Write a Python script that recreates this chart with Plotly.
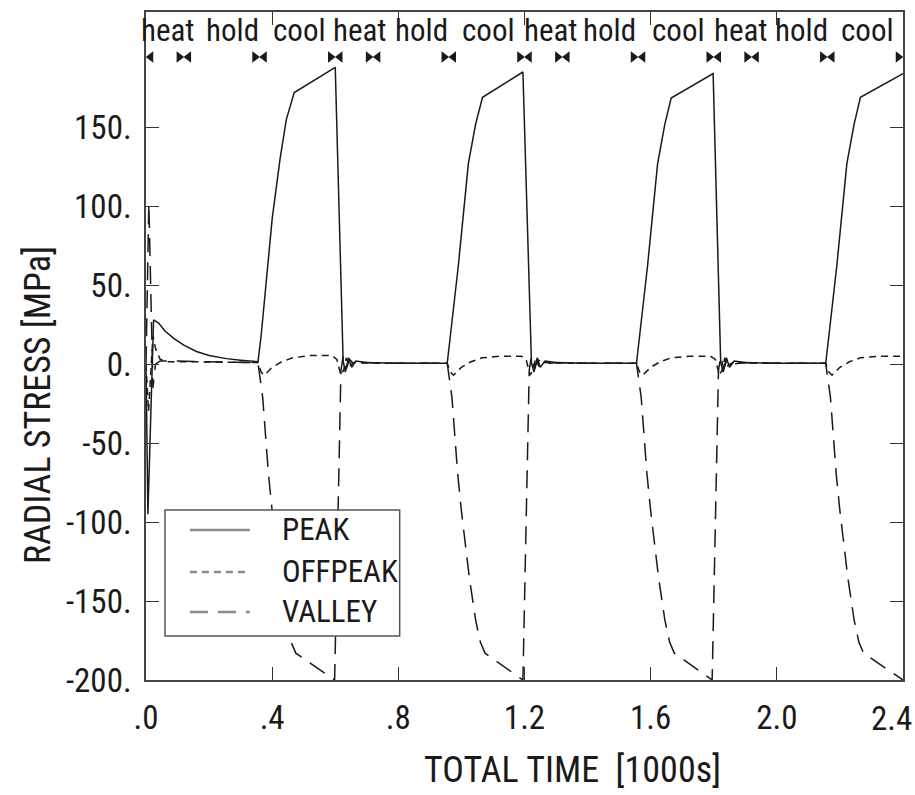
import plotly.graph_objects as go

# ---------------- data (time in 1000 s, stress in MPa) ----------------
peak_t = [0.000, 0.006, 0.024, 0.040, 0.060, 0.090, 0.120, 0.160, 0.200, 0.255, 0.300, 0.355,
          0.365, 0.380, 0.400, 0.425, 0.445, 0.470, 0.600,
          0.625, 0.632, 0.642, 0.652, 0.665, 0.700, 0.800, 0.955,
          0.965, 0.990, 1.022, 1.045, 1.067, 1.195,
          1.222, 1.230, 1.240, 1.250, 1.265, 1.300, 1.400, 1.555,
          1.565, 1.590, 1.622, 1.645, 1.665, 1.798,
          1.822, 1.830, 1.840, 1.850, 1.865, 1.900, 2.000, 2.155,
          2.165, 2.190, 2.222, 2.245, 2.265, 2.400]
peak_v = [0, -95, 28, 26, 21, 16, 12, 8, 5.5, 3.5, 2.5, 1.5,
          18, 48, 92, 130, 155, 172, 188,
          2, -5, 4, -2, 2, 1, 0.5, 0.5,
          18, 62, 127, 152, 169, 185,
          1, -5, 4, -2, 2, 1, 0.5, 0.5,
          18, 62, 127, 152, 168.5, 184,
          1, -5, 4, -2, 2, 1, 0.5, 0.5,
          18, 62, 127, 152, 169, 184]

offpeak_t = [0.000, 0.008, 0.022, 0.030, 0.045, 0.070, 0.150, 0.355,
             0.365, 0.375, 0.400, 0.430, 0.465, 0.520, 0.590,
             0.605, 0.618, 0.628, 0.635, 0.645, 0.660, 0.750, 0.955,
             0.965, 0.975, 1.000, 1.030, 1.065, 1.120, 1.190,
             1.205, 1.218, 1.228, 1.235, 1.245, 1.260, 1.350, 1.555,
             1.565, 1.575, 1.600, 1.630, 1.665, 1.720, 1.790,
             1.805, 1.818, 1.828, 1.835, 1.845, 1.860, 1.950, 2.155,
             2.165, 2.175, 2.200, 2.230, 2.265, 2.320, 2.400]
offpeak_v = [0, -30, 18, 10, 3, 1.5, 1.5, 1,
             -5, -7, -2, 1.5, 4, 5.5, 5.5,
             3, -7, -3, 4, -1, 1, 0.5, 0.5,
             -5, -7, -2, 1.5, 4, 5, 5,
             3, -7, -3, 4, -1, 1, 0.5, 0.5,
             -5, -7, -2, 1.5, 4, 5, 5,
             3, -7, -3, 4, -1, 1, 0.5, 0.5,
             -5, -7, -2, 1.5, 4, 5, 5]

valley_t = [0.000, 0.009, 0.022, 0.030, 0.045, 0.100, 0.200, 0.355,
            0.370, 0.388, 0.400, 0.425, 0.445, 0.460, 0.475, 0.598,
            0.618, 0.625, 0.635, 0.645, 0.660, 0.700, 0.800, 0.955,
            0.970, 0.988, 1.000, 1.025, 1.045, 1.060, 1.075, 1.195,
            1.215, 1.222, 1.232, 1.242, 1.260, 1.300, 1.400, 1.555,
            1.570, 1.588, 1.600, 1.625, 1.645, 1.660, 1.675, 1.795,
            1.815, 1.822, 1.832, 1.842, 1.860, 1.900, 2.000, 2.155,
            2.170, 2.188, 2.200, 2.225, 2.245, 2.260, 2.275, 2.400]
valley_v = [0, 102, -15, 0, 2, 2, 1.5, 1,
            -21, -69, -93, -135, -162, -176, -183, -200,
            -4, 5, -3, 3, 0, 1, 0.5, 0.5,
            -21, -69, -93, -135, -162, -176, -183, -200,
            -4, 5, -3, 3, 0, 1, 0.5, 0.5,
            -21, -69, -93, -135, -162, -176, -183, -200,
            -4, 5, -3, 3, 0, 1, 0.5, 0.5,
            -21, -69, -93, -135, -162, -176, -183, -200]

series_names = ["PEAK", "OFFPEAK", "VALLEY"]

phase_labels = ["heat", "hold", "cool"] * 4
phase_label_t = [0.070, 0.273, 0.486, 0.679, 0.873, 1.086,
                 1.283, 1.470, 1.689, 1.886, 2.079, 2.286]
phase_bounds = [0.00, 0.12, 0.36, 0.60, 0.72, 0.96, 1.20, 1.32, 1.56, 1.80, 1.92, 2.16, 2.40]

x_tickvals = [0.0, 0.4, 0.8, 1.2, 1.6, 2.0, 2.4]
x_ticktext = [".0", ".4", ".8", "1.2", "1.6", "2.0", "2.4"]
y_tickvals = [-200, -150, -100, -50, 0, 50, 100, 150]
y_ticktext = ["-200.", "-150.", "-100.", "-50.", "0.", "50.", "100.", "150."]

# ---------------- styling ----------------
FONT = "Liberation Sans Narrow, Roboto Condensed, DejaVu Sans Condensed, Arial Narrow, sans-serif"
INK = "#1a1a1a"
Y_LABEL = 211.5     # data-y of the phase labels
Y_MARK = 194.5      # data-y of the phase boundary markers
MOFF = 0.015        # half-gap of the bow-tie markers (data units)
DASHES = ["solid", "7px,5px", "18px,10px"]
TICK_FONT = dict(family=FONT, size=33, color=INK)

fig = go.Figure()

series = [(peak_t, peak_v), (offpeak_t, offpeak_v), (valley_t, valley_v)]
for name, (t, v), dash in zip(series_names, series, DASHES):
    fig.add_trace(go.Scatter(x=t, y=v, mode="lines", name=name, showlegend=False,
                             line=dict(color=INK, width=1.5, dash=dash)))

# phase boundary markers  ▸◂
right_x = [b - MOFF for b in phase_bounds[1:]]
left_x = [b + MOFF for b in phase_bounds[:-1]]
fig.add_trace(go.Scatter(x=right_x, y=[Y_MARK] * len(right_x), mode="markers", showlegend=False,
                         marker=dict(symbol="triangle-right", size=10, color=INK), cliponaxis=False))
fig.add_trace(go.Scatter(x=left_x, y=[Y_MARK] * len(left_x), mode="markers", showlegend=False,
                         marker=dict(symbol="triangle-left", size=10, color=INK), cliponaxis=False))

for lab, t in zip(phase_labels, phase_label_t):
    fig.add_annotation(x=t, y=Y_LABEL, text=lab, showarrow=False, xanchor="center", yanchor="middle",
                       font=dict(family=FONT, size=31, color=INK))

# ---- key (legend box) in paper coordinates ----
LEG_X0, LEG_X1, LEG_Y0, LEG_Y1 = 0.0251, 0.3351, 0.0659, 0.2545
LEG_ROWS = [0.2246, 0.1617, 0.1018]
fig.add_shape(type="rect", xref="paper", yref="paper", x0=LEG_X0, x1=LEG_X1, y0=LEG_Y0, y1=LEG_Y1,
              fillcolor="white", line=dict(color="#555", width=1.5), layer="above")
for name, dash, yy in zip(series_names, DASHES, LEG_ROWS):
    fig.add_shape(type="line", xref="paper", yref="paper", x0=0.058, x1=0.1372, y0=yy, y1=yy,
                  line=dict(color="#8a8a8a", width=2.5, dash=dash), layer="above")
    fig.add_annotation(xref="paper", yref="paper", x=0.1768, y=yy, text=name, showarrow=False,
                       xanchor="left", yanchor="middle", font=dict(family=FONT, size=31, color=INK))

# last x tick label is right-aligned so it stays inside the page
axis_labels_shown = x_ticktext[:-1] + [""]
fig.add_annotation(x=x_tickvals[-1], xref="x", y=0, yref="paper", text=x_ticktext[-1],
                   showarrow=False, xanchor="right", yanchor="top", xshift=11, yshift=-17,
                   font=TICK_FONT)

# axis titles
fig.add_annotation(xref="paper", yref="paper", x=0.5633, y=-0.1347, text="TOTAL TIME  [1000s]",
                   showarrow=False, xanchor="center", yanchor="middle",
                   font=dict(family=FONT, size=36, color=INK))
fig.add_annotation(xref="paper", yref="paper", x=-0.1425, y=0.4117, text="RADIAL STRESS [MPa]",
                   showarrow=False, xanchor="center", yanchor="middle", textangle=-90,
                   font=dict(family=FONT, size=36, color=INK))

axis_common = dict(showgrid=False, zeroline=False, showline=True, linecolor="#444", linewidth=1.5,
                   mirror="ticks", ticks="inside", ticklen=13, tickwidth=1.2, tickcolor="#333",
                   tickfont=TICK_FONT, automargin=False)

fig.update_xaxes(range=[0, 2.4], tickmode="array", tickvals=x_tickvals, ticktext=axis_labels_shown,
                 ticklabelstandoff=8, **axis_common)
fig.update_yaxes(range=[-200, 223], tickmode="array", tickvals=y_tickvals, ticktext=y_ticktext,
                 ticklabelstandoff=6, **axis_common)

fig.update_layout(
    width=915, height=795,
    margin=dict(l=146, r=12, t=12, b=115),
    paper_bgcolor="white", plot_bgcolor="white",
    font=dict(family=FONT, color=INK),
    showlegend=False,
)

fig.write_html("out.html")
